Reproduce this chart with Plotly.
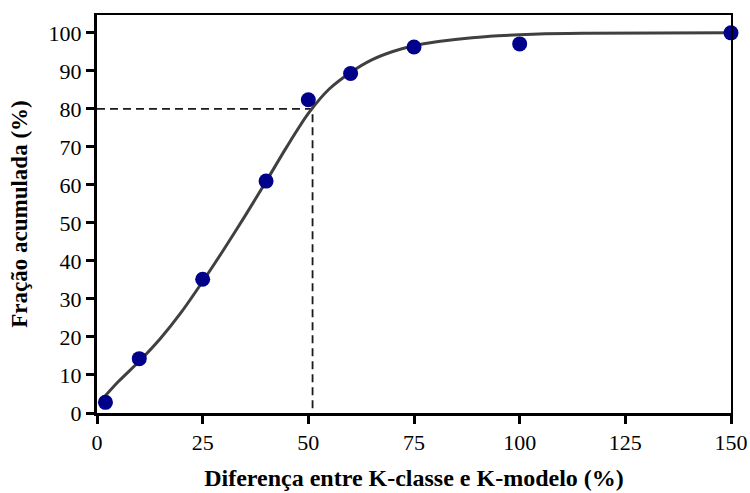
import plotly.graph_objects as go

# Observed data points
obs_x = [2, 10, 25, 40, 50, 60, 75, 100, 150]
obs_y = [2.8, 14.3, 35.2, 61, 82.4, 89.3, 96.3, 97.1, 100]

# Fitted curve
fit_x = [1, 5, 10, 15, 20, 25, 30, 35, 40, 45, 50, 55, 60, 65, 70, 75, 80, 87, 93, 100, 106, 115, 150]
fit_y = [3.3, 8.2, 13.6, 19.6, 26.6, 34.6, 43, 51.8, 60.9, 70.2, 78.8, 85.3, 89.6, 92.9, 95.1, 96.6, 97.6, 98.5, 99.1, 99.5, 99.75, 99.9, 100]

# Reference (80% level)
ref_x = 51
ref_y = 80

x_ticks = [0, 25, 50, 75, 100, 125, 150]
y_ticks = [0, 10, 20, 30, 40, 50, 60, 70, 80, 90, 100]

font_family = "Liberation Serif, Times New Roman, serif"

fig = go.Figure()

fig.add_trace(go.Scatter(
    x=[0, ref_x, ref_x], y=[ref_y, ref_y, 0],
    mode="lines", line=dict(color="#1a1a1a", width=1.8, dash="8px,5px"),
    hoverinfo="skip", showlegend=False))

fig.add_trace(go.Scatter(
    x=fit_x, y=fit_y, mode="lines",
    line=dict(color="#404040", width=3, shape="spline", smoothing=0.7),
    showlegend=False))

fig.add_trace(go.Scatter(
    x=obs_x, y=obs_y, mode="markers",
    marker=dict(color="#00008B", size=15, line=dict(width=0)),
    cliponaxis=False, showlegend=False))

# secondary axes for thin top/right frame
fig.add_trace(go.Scatter(x=[None], y=[None], xaxis="x2", yaxis="y2", showlegend=False))

fig.update_layout(
    width=750, height=493,
    margin=dict(l=97, r=19, t=15, b=80),
    paper_bgcolor="white", plot_bgcolor="white",
    font=dict(family=font_family, color="black", size=22),
    xaxis=dict(
        range=[0, 150], tickvals=x_ticks, ticktext=[str(v) for v in x_ticks],
        showgrid=False, zeroline=False, showline=True, linewidth=3, linecolor="black",
        ticks="outside", ticklen=8, tickwidth=3, tickcolor="black",
        tickfont=dict(size=22, family=font_family), automargin=False,
        title=dict(text="<b>Diferença entre K-classe e K-modelo (%)</b>",
                   font=dict(size=24, family=font_family)),
    ),
    yaxis=dict(
        range=[0, 104.7], tickvals=y_ticks, ticktext=[str(v) for v in y_ticks],
        showgrid=False, zeroline=False, showline=True, linewidth=3, linecolor="black",
        ticks="outside", ticklen=8, tickwidth=3, tickcolor="black",
        tickfont=dict(size=22, family=font_family), automargin=False,
        title=dict(text="<b>Fração acumulada (%)</b>",
                   font=dict(size=23, family=font_family)),
    ),
    xaxis2=dict(overlaying="x", side="top", range=[0, 150], showline=True, linewidth=1.5,
                linecolor="black", showticklabels=False, ticks="", showgrid=False,
                zeroline=False, automargin=False),
    yaxis2=dict(overlaying="y", side="right", range=[0, 104.7], showline=True, linewidth=1.5,
                linecolor="black", showticklabels=False, ticks="", showgrid=False,
                zeroline=False, automargin=False),
)

fig.write_html("out.html", config={"displayModeBar": False},
               post_script="document.body.style.margin='0';document.body.style.overflow='hidden';")
